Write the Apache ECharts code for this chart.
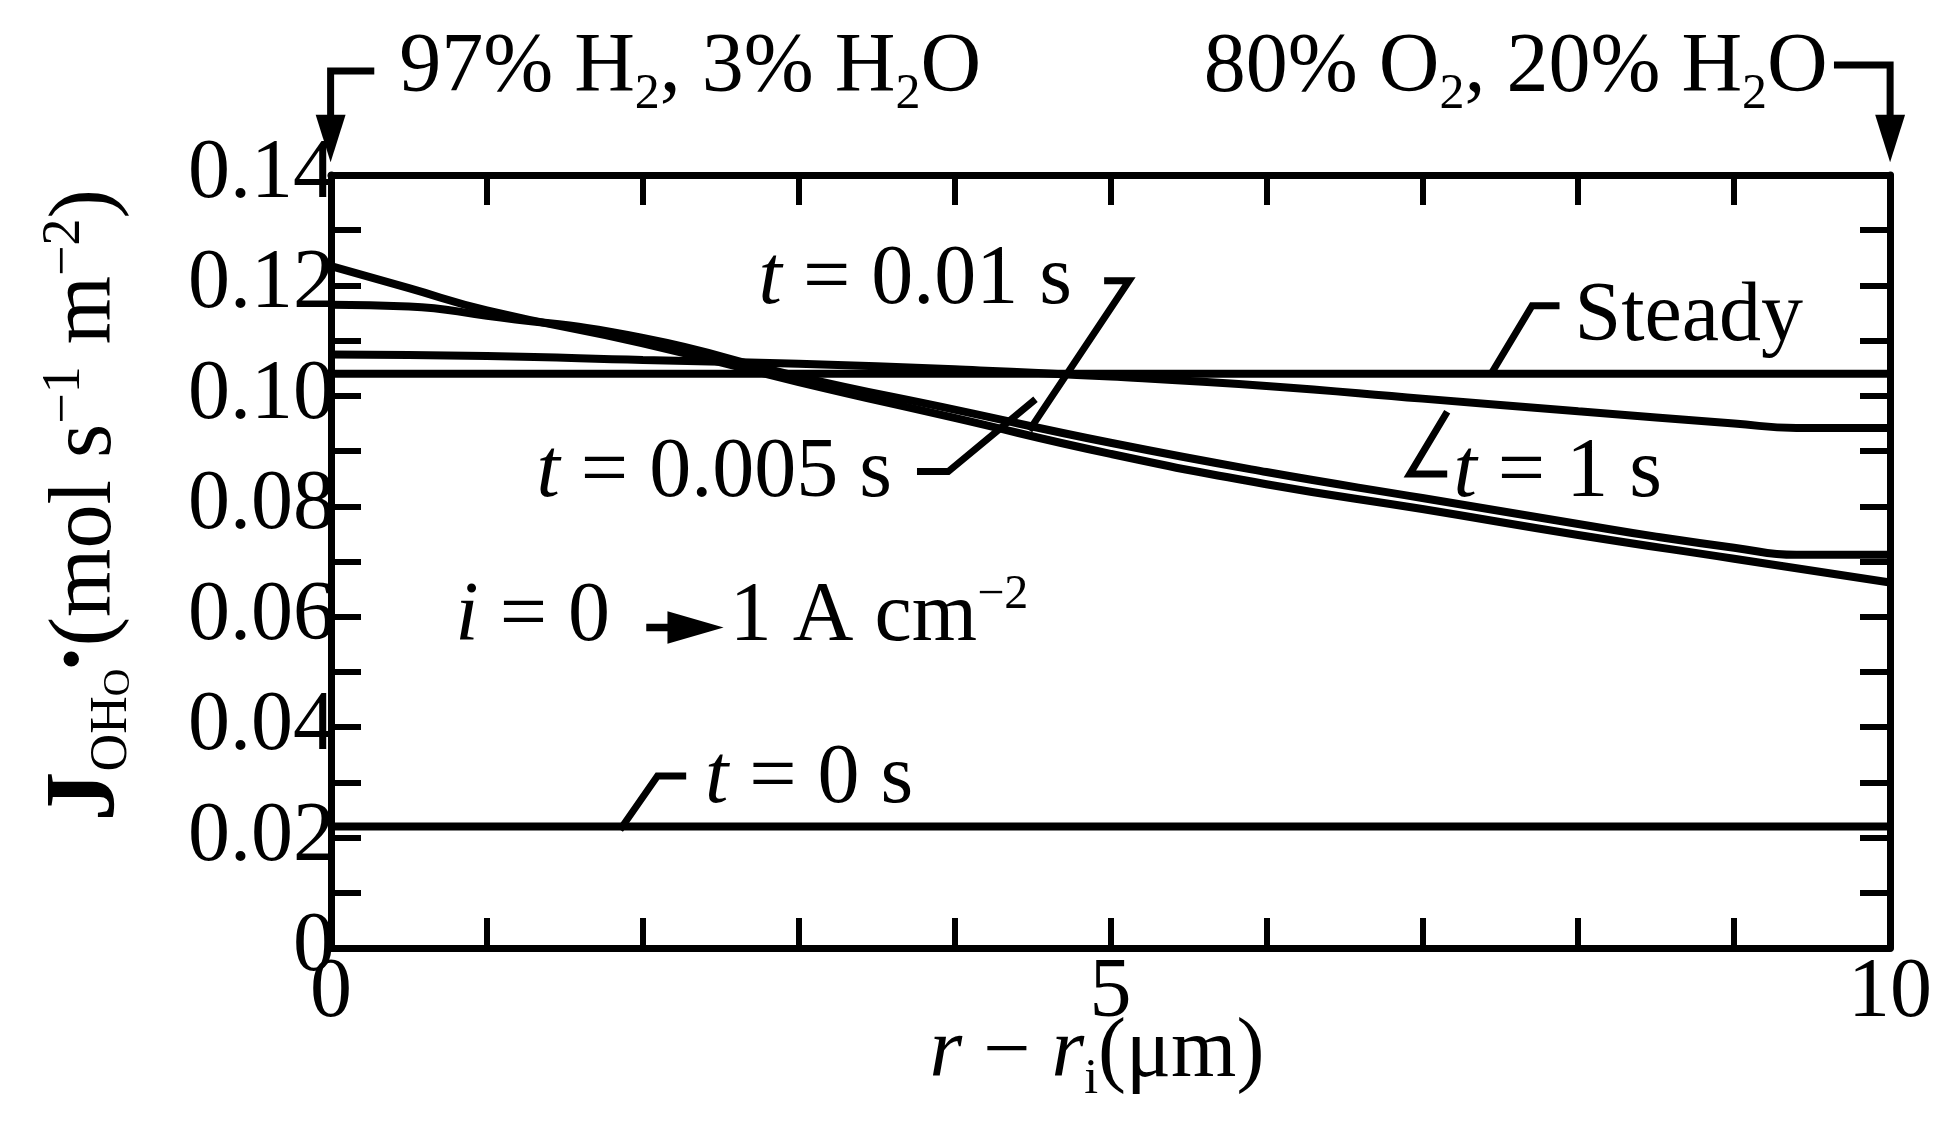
<!DOCTYPE html><html><head><meta charset="utf-8">
<script src="https://cdn.jsdelivr.net/npm/echarts@6/dist/echarts.min.js"></script>
<style>html,body{margin:0;background:#fff}#c{width:1945px;height:1145px}</style></head><body><div id="c"></div>
<script>
const t0 = [[0,0.022],[10,0.022]];
const steady = [[0,0.104],[10,0.104]];
const t1 = [[0,0.1075],[1,0.1072],[2,0.1065],[3,0.1058],[4,0.1048],[5,0.1035],[6,0.1018],[7,0.0995],[8,0.0972],[9,0.095],[9.4,0.0942],[10,0.0942]];
const t001 = [[0,0.1165],[0.5,0.1162],[1,0.1145],[2,0.1105],[3,0.1035],[4,0.0975],[5,0.0915],[6,0.0862],[7,0.0815],[8,0.0768],[8.5,0.0745],[9,0.0725],[9.4,0.0712],[10,0.0712]];
const t0005 = [[0,0.1235],[0.5,0.1195],[1,0.1155],[2,0.1095],[3,0.1025],[4,0.096],[5,0.0895],[6,0.084],[7,0.0795],[8,0.0748],[9,0.0705],[10,0.0662]];
const yTicks = ['0','0.02','0.04','0.06','0.08','0.10','0.12','0.14'];
const S = 1.2476;
const P = v => v*S;
const F = '"Liberation Serif", "DejaVu Serif", serif';
const FS = 84;
const ch = echarts.init(document.getElementById('c'));
const ax = (pos)=>({type:'value',position:pos,min:0,max:10,interval:5,
  axisLine:{show:true,onZero:false,lineStyle:{color:'#000',width:7}},
  axisTick:{show:true,inside:true,length:30,lineStyle:{color:'#000',width:6}},
  minorTick:{show:true,splitNumber:5,length:30,lineStyle:{color:'#000',width:6}},
  splitLine:{show:false},
  axisLabel:{show:pos==='bottom',fontFamily:F,fontSize:FS,color:'#000',margin:4}});
const ay = (pos)=>({type:'value',position:pos,min:0,max:0.14,interval:0.02,
  axisLine:{show:true,onZero:false,lineStyle:{color:'#000',width:7}},
  axisTick:{show:true,inside:true,length:30,lineStyle:{color:'#000',width:6}},
  minorTick:{show:true,splitNumber:2,length:30,lineStyle:{color:'#000',width:6}},
  splitLine:{show:false},
  axisLabel:{show:pos==='left',fontFamily:F,fontSize:FS,color:'#000',margin:-4,
    formatter:v=>yTicks[Math.round(v/0.02)]}});
const line = (d)=>({type:'line',data:d,showSymbol:false,smooth:true,lineStyle:{color:'#000',width:8}});
const tx = (x,y,text,extra)=>({type:'text',x:P(x),y:P(y),style:Object.assign({text:text,rich:R,fontFamily:F,fontSize:FS,fill:'#000',verticalAlign:'middle'},extra||{})});
const pl = (pts)=>({type:'polyline',shape:{points:pts.map(p=>[P(p[0]),P(p[1])])},style:{stroke:'#000',lineWidth:7,fill:null}});
const R = {i:{fontStyle:'italic',fontFamily:F,fontSize:FS},n:{fontFamily:F,fontSize:FS},
  s:{fontFamily:F,fontSize:50,padding:[52,0,0,0]},u:{fontFamily:F,fontSize:48,padding:[0,0,44,0]}};
ch.setOption({
  animation:false,
  grid:{left:331,right:1945-1890,top:175,bottom:1145-948},
  xAxis:[ax('bottom'),ax('top')],
  yAxis:[ay('left'),ay('right')],
  series:[line(t0),line(steady),line(t1),line(t001),line(t0005)],
  graphic:[
    tx(320,55,'{n|97% H}{s|2}{n|, 3% H}{s|2}{n|O}'),
    tx(1465,55,'{n|80% O}{s|2}{n|, 20% H}{s|2}{n|O}',{align:'right'}),
    pl([[300,57],[265,57],[265,100]]),
    {type:'polygon',shape:{points:[[P(253),P(92)],[P(277),P(92)],[P(265),P(130)]]},style:{fill:'#000'}},
    pl([[1470,52],[1515,52],[1515,100]]),
    {type:'polygon',shape:{points:[[P(1503),P(92)],[P(1527),P(92)],[P(1515),P(130)]]},style:{fill:'#000'}},
    tx(608,225,'{i|t}{n| = 0.01 s}'),
    pl([[885,225],[905,225],[825,345]]),
    tx(430,380,'{i|t}{n| = 0.005 s}'),
    pl([[735,378],[760,378],[830,320]]),
    tx(1262,255,'{n|Steady}'),
    pl([[1250,245],[1228,245],[1195,300]]),
    tx(1165,380,'{i|t}{n| = 1 s}'),
    pl([[1160,380],[1130,380],[1160,330]]),
    tx(565,625,'{i|t}{n| = 0 s}'),
    pl([[550,622],[527,622],[497,665]]),
    tx(365,495,'{i|i}{n| = 0}'),
    {type:'polygon',shape:{points:[[P(518),P(500)],[P(535),P(500)],[P(535),P(490)],[P(580),P(503)],[P(535),P(516)],[P(535),P(506)],[P(518),P(506)]]},style:{fill:'#000'}},
    tx(585,495,'{n|1 A cm}{u|−2}'),
    tx(745,845,'{i|r}{n| − }{i|r}{s|i}{n|(μm)}'),
    {type:'text',x:P(70),y:P(405),rotation:Math.PI/2,style:{text:'{b|J}{bs|OH}{bs2|O}{bd|•} {m|(mol s}{u|−1}{m| m}{u|−2}{m|)}',align:'center',verticalAlign:'middle',fontFamily:F,fill:'#000',
      rich:{b:{fontFamily:F,fontWeight:'bold',fontSize:100},bs:{fontFamily:F,fontSize:52,padding:[50,0,0,0]},bs2:{fontFamily:F,fontSize:38,padding:[64,0,0,0]},bd:{fontFamily:F,fontSize:56,fontWeight:'bold',padding:[0,0,24,0]},
        m:{fontFamily:F,fontSize:88},u:{fontFamily:F,fontSize:54,padding:[0,0,46,0]}}}}
  ]
});
</script></body></html>
